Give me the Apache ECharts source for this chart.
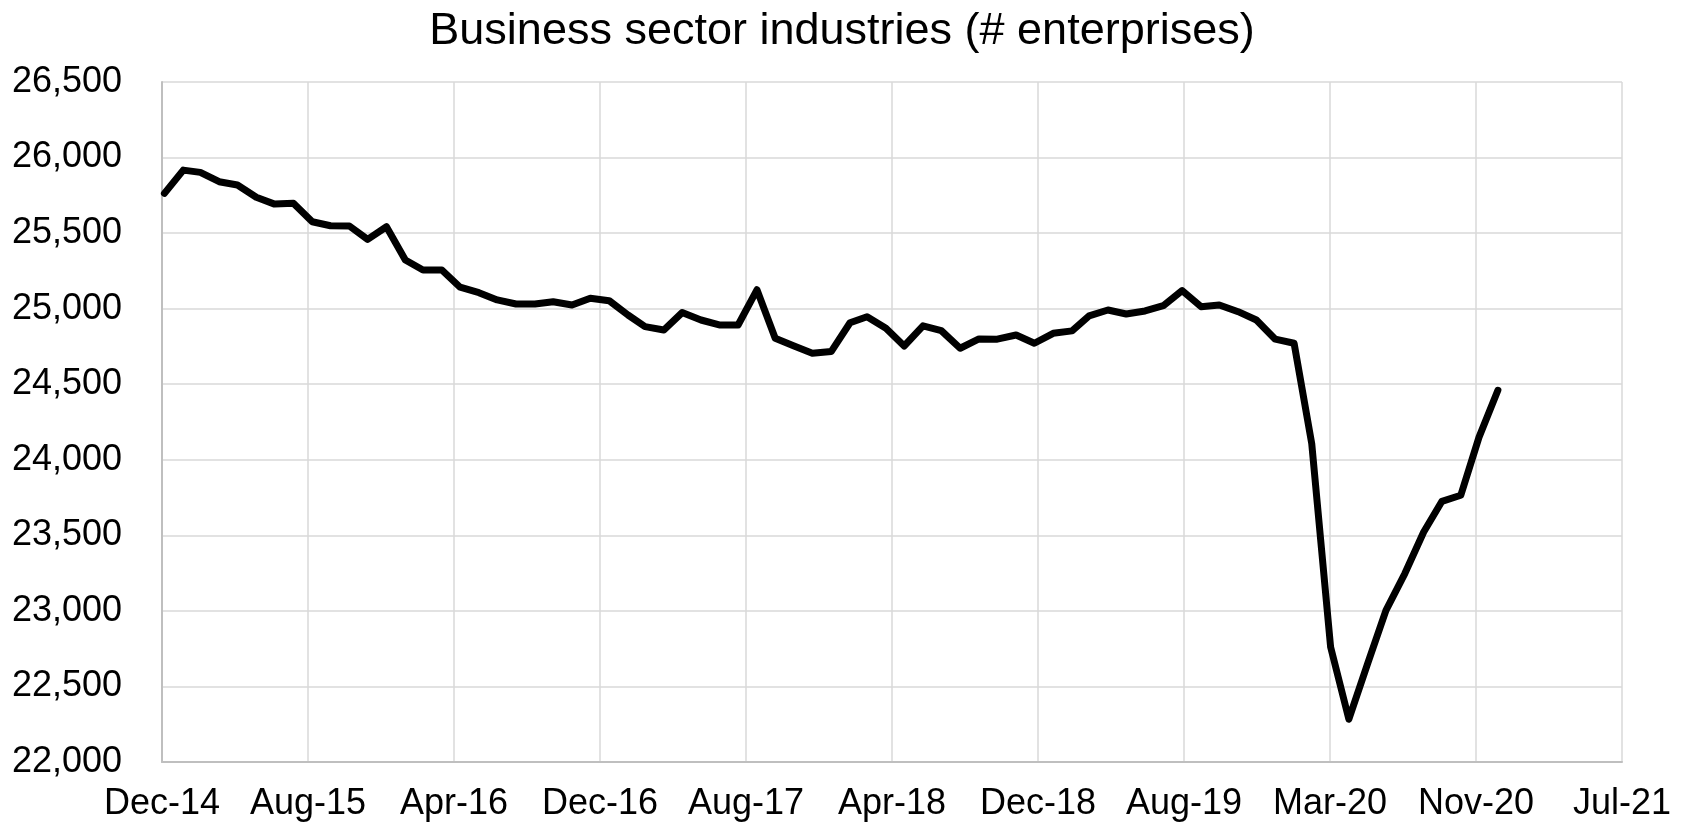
<!DOCTYPE html>
<html>
<head>
<meta charset="utf-8">
<script src="https://cdn.jsdelivr.net/npm/echarts@6/dist/echarts.min.js"></script>
<style>
html,body{margin:0;padding:0;background:#fff;}
#chart{width:1684px;height:828px;}
</style>
</head>
<body>
<div id="chart"></div>
<script>
// Chart title
const titleText = 'Business sector industries (# enterprises)';

// Monthly observations, first month and values (# enterprises)
const firstMonth = { year: 2014, month: 12 };
const enterprises = [
  25763, 25917, 25902, 25840, 25818, 25737, 25692, 25697, 25575, 25549,
  25547, 25459, 25542, 25322, 25256, 25256, 25142, 25106, 25058, 25031,
  25031, 25046, 25024, 25069, 25053, 24958, 24881, 24859, 24974, 24925,
  24892, 24892, 25125, 24804, 24753, 24705, 24716, 24907, 24947, 24870,
  24753, 24886, 24855, 24738, 24800, 24798, 24826, 24771, 24837, 24853,
  24952, 24991, 24965, 24985, 25020, 25120, 25013, 25024, 24980, 24925,
  24798, 24771, 24106, 22761, 22283, 22653, 23004, 23247, 23522, 23725,
  23765, 24150, 24460
];

// Axis settings (date axis: base date and tick step in days, like the source)
const axisBaseDate = Date.UTC(2014, 11, 27);
const xTickStepDays = 240;
const xTickCount = 10;
const yMin = 22000, yMax = 26500, yStep = 500;
const monthNames = ['Jan','Feb','Mar','Apr','May','Jun','Jul','Aug','Sep','Oct','Nov','Dec'];

// Category dates: month-end of each observation
const DAY = 86400000;
const categories = enterprises.map((_, i) => {
  const m0 = firstMonth.month - 1 + i;
  const y = firstMonth.year + Math.floor(m0 / 12);
  const m = m0 % 12;
  return Date.UTC(y, m + 1, 0);
});
const seriesData = categories.map((d, i) => [(d - axisBaseDate) / DAY, enterprises[i]]);

function fmtDate(days) {
  const d = new Date(axisBaseDate + Math.round(days) * DAY);
  return monthNames[d.getUTCMonth()] + '-' + String(d.getUTCFullYear() % 100).padStart(2, '0');
}

const FONT = '"Liberation Sans", Arial, sans-serif';
const chart = echarts.init(document.getElementById('chart'), null, { renderer: 'canvas' });
chart.setOption({
  backgroundColor: '#ffffff',
  animation: false,
  title: {
    text: titleText,
    left: 'center',
    top: 4,
    textStyle: { fontFamily: FONT, fontSize: 45, fontWeight: 'normal', color: '#000' }
  },
  grid: { left: 162, right: 62, top: 82, bottom: 66, containLabel: false },
  xAxis: {
    type: 'value',
    min: 0,
    max: xTickStepDays * xTickCount,
    interval: xTickStepDays,
    axisLine: { show: true, lineStyle: { color: '#bfbfbf', width: 2 } },
    axisTick: { show: false },
    splitLine: { show: true, lineStyle: { color: '#d9d9d9', width: 1.5 } },
    axisLabel: {
      formatter: v => fmtDate(v),
      fontFamily: FONT, fontSize: 36, color: '#000', margin: 24,
      showMinLabel: true, showMaxLabel: true
    }
  },
  yAxis: {
    type: 'value',
    min: yMin, max: yMax, interval: yStep,
    axisLine: { show: true, lineStyle: { color: '#bfbfbf', width: 2 } },
    axisTick: { show: false },
    splitLine: { show: true, lineStyle: { color: '#d9d9d9', width: 1.5 } },
    axisLabel: {
      formatter: v => v.toLocaleString('en-US'),
      fontFamily: FONT, fontSize: 36, color: '#000', margin: 40
    }
  },
  series: [{
    type: 'line',
    data: seriesData,
    showSymbol: false,
    symbol: 'none',
    lineStyle: { color: '#000', width: 7, cap: 'round', join: 'round' }
  }]
});
</script>
</body>
</html>
